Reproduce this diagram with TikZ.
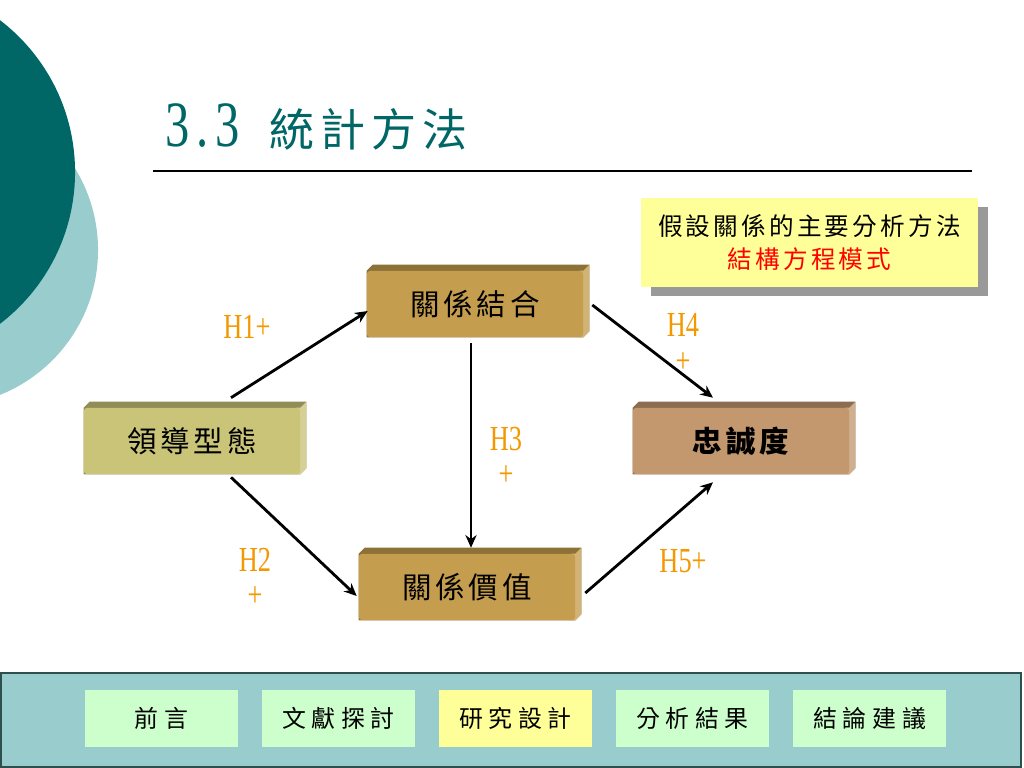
\documentclass[tikz,border=0pt]{standalone}
\usepackage{fontspec}
\usepackage{xcolor}
\newfontfamily\cjk[LetterSpace=13]{Noto Sans CJK TC}
\newfontfamily\cjknav[LetterSpace=24]{Noto Sans CJK TC}
\newfontfamily\hfont[FakeStretch=0.75]{Liberation Serif}
\usetikzlibrary{arrows.meta,calc,shadows,backgrounds}

\definecolor{darkteal}{RGB}{0,102,102}
\definecolor{paleteal}{RGB}{153,204,204}
\definecolor{barline}{RGB}{47,79,79}
\definecolor{leadc}{RGB}{201,196,120}
\definecolor{bondc}{RGB}{196,158,78}
\definecolor{loyalc}{RGB}{195,152,110}
\definecolor{hypo}{RGB}{243,152,0}
\definecolor{notey}{RGB}{255,255,153}
\definecolor{navgreen}{RGB}{204,255,204}
\definecolor{navyellow}{RGB}{255,255,153}

\begin{document}
\begin{tikzpicture}[x=0.025cm,y=-0.025cm,
  factor/.style={rectangle, rounded corners=2pt, minimum width=5.4cm, minimum height=1.65cm,
    inner sep=0pt, font=\cjk\fontsize{21}{24}\selectfont},
  link/.style={line width=2pt, -{Stealth[length=9pt,width=8pt]}},
  hyp/.style={inner sep=0pt, align=center, text=hypo, font=\hfont\fontsize{25}{25}\selectfont},
  notebox/.style={fill=notey, minimum width=8.425cm, minimum height=2.225cm, align=center,
    font=\cjk\fontsize{17.5}{24}\selectfont,
    drop shadow={shadow xshift=0.25cm, shadow yshift=-0.225cm, fill=black!40, opacity=1}},
  navbtn/.style={minimum width=3.825cm, minimum height=1.425cm, inner sep=0pt,
    font=\cjknav\fontsize{17}{18}\selectfont}]
\useasboundingbox (0,0) rectangle (1024,768);

% side circles
\begin{scope}
\clip (0,0) rectangle (1024,768);
\fill[paleteal] (-58,250) circle (3.9cm);
\fill[darkteal] (-116,172) circle (4.775cm);
\end{scope}

% title
\node[anchor=base west, inner sep=0pt, text=darkteal] (title) at (165,147)
  {{\hfont\fontsize{46}{46}\selectfont 3\kern5pt.\kern5pt3}\hspace{21pt}{\cjk\fontsize{32}{32}\selectfont 統計方法}};
\draw[line width=0.8pt] (153,171) -- (972,171);

% note
\node[notebox] (note) at (809.5,242.5) {假設關係的主要分析方法\\\textcolor{red}{結構方程模式}};

% factors
\node[factor, fill=leadc] (lead) at (192,441) {領導型態};
\node[factor, fill=bondc] (bond) at (475,304) {關係結合};
\node[factor, fill=bondc] (value) at (467,587) {關係價值};
\node[factor, fill=loyalc, font=\cjk\bfseries\fontsize{21}{24}\selectfont] (loyal) at (741,441) {忠誠度};

\begin{scope}[on background layer]
\foreach \n/\c in {lead/leadc,bond/bondc,value/bondc,loyal/loyalc}{
  \fill[\c!72!black] (\n.south west) -- (\n.north west) -- ++(6,-6) -- ($(\n.north east)+(6,-6)$)
    -- ($(\n.south east)+(6,-6)$) -- (\n.south east) -- cycle;
  \fill[\c!78!white] (\n.north east) -- ++(6,-6) -- ($(\n.south east)+(6,-6)$) -- (\n.south east)
    -- ($(\n.south east)+(-4,0)$) -- ($(\n.north east)+(-4,0)$) -- cycle;
}
\end{scope}

% paths
\draw[link] ($(lead.north)+(39,-10)$) -- ($(bond.west)+(1,7)$);
\draw[link] ($(lead.south)+(39,3)$) -- ($(value.west)+(-2,9)$);
\draw[link] ($(bond.south)+(-4,6)$) -- ($(value.north)+(4,-6)$);
\draw[link] ($(bond.east)+(9,1)$) -- ($(loyal.north)+(-28,-10)$);
\draw[link] ($(value.east)+(10,6)$) -- ($(loyal.south)+(-28,8)$);

\node[hyp] (h1) at (247,327) {H1+};
\node[hyp] (h2) at (255,577) {H2\\+};
\node[hyp] (h3) at (506,456) {H3\\+};
\node[hyp] (h4) at (683,343) {H4\\+};
\node[hyp] (h5) at (683,561) {H5+};

% navigation bar
\draw[fill=paleteal, draw=barline, line width=1pt] (1,673) rectangle (1021,767);
\foreach \t/\c [count=\i] in {前言/navgreen,文獻探討/navgreen,研究設計/navyellow,分析結果/navgreen,結論建議/navgreen}
  \node[navbtn, fill=\c] (nav\i) at ({161.5+177*(\i-1)},718.5) {\t};
\end{tikzpicture}
\end{document}
